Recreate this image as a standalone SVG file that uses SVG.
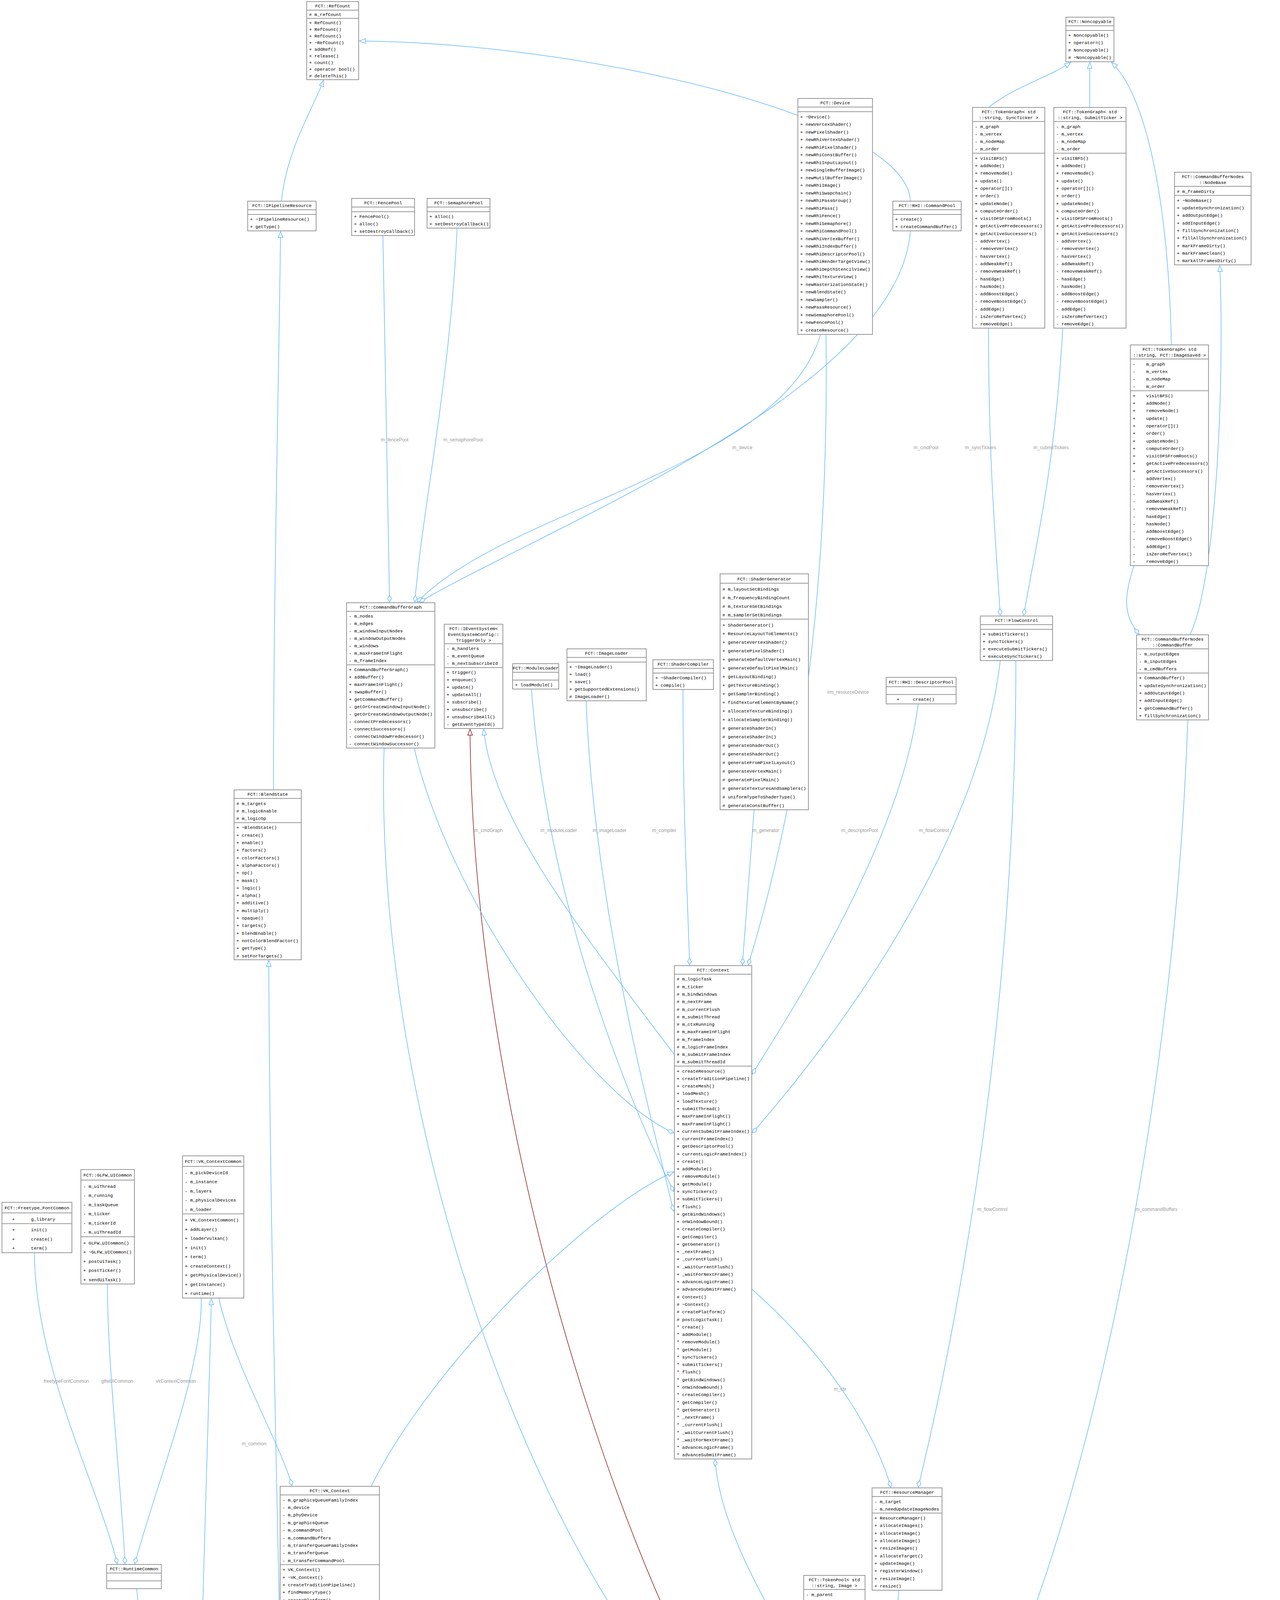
<svg xmlns="http://www.w3.org/2000/svg" width="3276" height="5499" viewBox="0 0 3276 5499">
<style>
.b{fill:#fff;stroke:#999;stroke-width:2}
.g{fill:#999;stroke:#777;stroke-width:2}
.s{stroke:#999;stroke-width:2}
.t{font-family:"Liberation Mono",monospace;font-size:11.5px;fill:#000;white-space:pre}
.c{text-anchor:middle}
.l{font-family:"Liberation Sans",sans-serif;font-size:12px;fill:#9a9a9a;text-anchor:middle}
.e{fill:none;stroke:#63b8ff;stroke-width:1.5}
.r{fill:none;stroke:#8b1a1a;stroke-width:1.5}
</style>
<defs>
<marker id="tri" markerUnits="userSpaceOnUse" markerWidth="18" markerHeight="16" refX="16" refY="7" orient="auto"><path d="M1,1 L16,7 L1,13 Z" fill="#fff" stroke="#63b8ff" stroke-width="1.5"/></marker>
<marker id="trir" markerUnits="userSpaceOnUse" markerWidth="18" markerHeight="16" refX="16" refY="7" orient="auto"><path d="M1,1 L16,7 L1,13 Z" fill="#fff" stroke="#8b1a1a" stroke-width="1.5"/></marker>
<marker id="dia" markerUnits="userSpaceOnUse" markerWidth="20" markerHeight="12" refX="18" refY="6" orient="auto"><path d="M1,6 L9.5,1 L18,6 L9.5,11 Z" fill="#fff" stroke="#63b8ff" stroke-width="1.5"/></marker>
</defs>

<g id="edges">
<path class="e" marker-end="url(#tri)" d="M720 515 C735 380 800 280 828 206"/>
<path class="e" marker-end="url(#tri)" d="M700 2022 C700 1500 715 900 718 593"/>
<path class="e" marker-end="url(#tri)" d="M730 4926 C720 4200 690 3200 688 2459"/>
<path class="e" marker-end="url(#tri)" d="M2330 515 C2320 300 1500 110 920 105"/>
<path class="e" marker-end="url(#tri)" d="M2530 275 C2600 220 2680 200 2740 160"/>
<path class="e" marker-end="url(#tri)" d="M2789 275 L2789 160"/>
<path class="e" marker-end="url(#tri)" d="M2998 883 C2990 500 2930 240 2845 160"/>
<path class="e" marker-end="url(#tri)" d="M3045 1625 C3110 1500 3135 1000 3122 680"/>
<path class="r" marker-end="url(#trir)" d="M2110 4780 C1700 4400 1210 3000 1203 1867"/>
<path class="e" marker-end="url(#tri)" d="M1726 2700 C1500 2400 1260 2100 1238 1867"/>
<path class="e" marker-end="url(#tri)" d="M950 3805 C1100 3500 1500 3100 1724 3000"/>
<path class="e" marker-end="url(#tri)" d="M504 4839 C510 4300 535 3600 541 3325"/>

<path class="e" marker-end="url(#dia)" d="M980 603 C985 1000 995 1300 997 1541"/>
<path class="e" marker-end="url(#dia)" d="M1170 584 C1150 1000 1080 1300 1062 1541"/>
<path class="e" marker-end="url(#dia)" d="M2100 856 C2000 1200 1300 1300 1068 1541"/>
<path class="e" marker-end="url(#dia)" d="M2330 591 C2300 1000 1400 1350 1074 1541"/>
<path class="e" marker-end="url(#dia)" d="M983 1915 C950 3000 1500 4400 2108 4650"/>
<path class="e" marker-end="url(#dia)" d="M1060 1915 C1150 2300 1500 2800 1724 2900"/>
<path class="e" marker-end="url(#dia)" d="M1360 1764 C1400 2300 1600 2800 1724 3050"/>
<path class="e" marker-end="url(#dia)" d="M1500 1794 C1520 2300 1650 2800 1724 3100"/>
<path class="e" marker-end="url(#dia)" d="M1748 1765 C1748 2100 1760 2300 1765 2470"/>
<path class="e" marker-end="url(#dia)" d="M1930 2073 L1900 2470"/>
<path class="e" marker-end="url(#dia)" d="M2350 1802 C2300 2200 1950 2700 1926 2750"/>
<path class="e" marker-end="url(#dia)" d="M2114 856 C2120 1300 2090 1900 1915 2470"/>
<path class="e" marker-end="url(#dia)" d="M2560 1691 C2500 2200 2100 2700 1926 2900"/>
<path class="e" marker-end="url(#dia)" d="M2530 840 C2530 1200 2550 1400 2560 1575"/>
<path class="e" marker-end="url(#dia)" d="M2720 840 C2700 1200 2650 1400 2620 1575"/>
<path class="e" marker-end="url(#dia)" d="M2902 1448 C2880 1520 2870 1570 2915 1623"/>
<path class="e" marker-end="url(#dia)" d="M3040 1843 C3000 3000 2700 4300 2345 4700"/>
<path class="e" marker-end="url(#dia)" d="M2300 4071 L2280 4537"/>
<path class="e" marker-end="url(#dia)" d="M2140 4231 L2160 4537"/>
<path class="e" marker-end="url(#dia)" d="M2200 4539 C2100 4300 1850 4000 1830 3737"/>
<path class="e" marker-end="url(#dia)" d="M1924 3300 C2150 3500 2250 3700 2280 3807"/>
<path class="e" marker-end="url(#dia)" d="M2600 1691 C2600 2600 2450 3400 2350 3807"/>
<path class="e" marker-end="url(#dia)" d="M560 3323 C600 3500 720 3700 747 3803"/>
<path class="e" marker-end="url(#dia)" d="M350 4067 C380 4400 450 4700 467 4837"/>
<path class="e" marker-end="url(#dia)" d="M88 3207 C90 3500 250 3800 300 4003"/>
<path class="e" marker-end="url(#dia)" d="M275 3288 C275 3500 310 3800 320 4003"/>
<path class="e" marker-end="url(#dia)" d="M515 3323 C520 3500 400 3800 345 4003"/>
<path class="e" marker-end="url(#dia)" d="M805 4475 L753 4924"/>

<text class="l" x="1010" y="1130">m_fencePool</text>
<text class="l" x="1185" y="1130">m_semaphorePool</text>
<text class="l" x="1900" y="1150">m_device</text>
<text class="l" x="2370" y="1150">m_cmdPool</text>
<text class="l" x="1200" y="4120">m_commandBufferGraph</text>
<text class="l" x="1250" y="2130">m_cmdGraph</text>
<text class="l" x="1430" y="2130">m_moduleLoader</text>
<text class="l" x="1560" y="2130">m_imageLoader</text>
<text class="l" x="1700" y="2130">m_compiler</text>
<text class="l" x="1960" y="2130">m_generator</text>
<text class="l" x="2200" y="2130">m_descriptorPool</text>
<text class="l" x="2117" y="1776" style="text-anchor:start">#m_resourceDevice</text>
<text class="l" x="2390" y="2130">m_flowControl</text>
<text class="l" x="2510" y="1150">m_syncTickers</text>
<text class="l" x="2690" y="1150">m_submitTickers</text>
<text class="l" x="2960" y="3100">m_commandBuffers</text>
<text class="l" x="2320" y="4300">m_resourceManager</text>
<text class="l" x="2100" y="4380">m_passGroups</text>
<text class="l" x="1960" y="4150">m_renderGraph</text>
<text class="l" x="2150" y="3560">m_ctx</text>
<text class="l" x="2540" y="3100">m_flowControl</text>
<text class="l" x="650" y="3700">m_common</text>
<text class="l" x="420" y="4600">m_common</text>
<text class="l" x="170" y="3540">freetypeFontCommon</text>
<text class="l" x="300" y="3540">glfwUICommon</text>
<text class="l" x="450" y="3540">vkContextCommon</text>
<text class="l" x="800" y="4620">m_ctx</text>
</g>

<g id="RefCount"><rect class="b" x="785" y="4" width="133" height="200"/><line class="s" x1="785" y1="26" x2="918" y2="26"/><line class="s" x1="785" y1="47" x2="918" y2="47"/>
<text class="t c" x="851.5" y="19">FCT::RefCount</text>
<text class="t" x="791" y="40.75"># m_refCount</text>
<text class="t" x="791" y="61.75"><tspan x="791">+ RefCount()</tspan><tspan x="791" dy="17">+ RefCount()</tspan><tspan x="791" dy="17">+ RefCount()</tspan><tspan x="791" dy="17">+ ~RefCount()</tspan><tspan x="791" dy="17">+ addRef()</tspan><tspan x="791" dy="17">+ release()</tspan><tspan x="791" dy="17">+ count()</tspan><tspan x="791" dy="17">+ operator bool()</tspan><tspan x="791" dy="17"># deleteThis()</tspan></text></g>

<g id="IPipelineResource"><rect class="b" x="634" y="515" width="175" height="76"/><line class="s" x1="634" y1="537" x2="809" y2="537"/><line class="s" x1="634" y1="549" x2="809" y2="549"/>
<text class="t c" x="721.5" y="530">FCT::IPipelineResource</text>
<text class="t" x="640" y="565.25"><tspan x="640">+ ~IPipelineResource()</tspan><tspan x="640" dy="19">+ getType()</tspan></text></g>

<g id="FencePool"><rect class="b" x="900" y="508" width="161" height="95"/><line class="s" x1="900" y1="530" x2="1061" y2="530"/><line class="s" x1="900" y1="542" x2="1061" y2="542"/>
<text class="t c" x="980.5" y="523">FCT::FencePool</text>
<text class="t" x="906" y="558.25"><tspan x="906">+ FencePool()</tspan><tspan x="906" dy="19">+ alloc()</tspan><tspan x="906" dy="19">+ setDestroyCallback()</tspan></text></g>

<g id="SemaphorePool"><rect class="b" x="1093" y="508" width="161" height="76"/><line class="s" x1="1093" y1="530" x2="1254" y2="530"/><line class="s" x1="1093" y1="542" x2="1254" y2="542"/>
<text class="t c" x="1173.5" y="523">FCT::SemaphorePool</text>
<text class="t" x="1099" y="558.25"><tspan x="1099">+ alloc()</tspan><tspan x="1099" dy="19">+ setDestroyCallback()</tspan></text></g>

<g id="RHICommandPool"><rect class="b" x="2285" y="515" width="175" height="76"/><line class="s" x1="2285" y1="537" x2="2460" y2="537"/><line class="s" x1="2285" y1="549" x2="2460" y2="549"/>
<text class="t c" x="2372.5" y="530">FCT::RHI::CommandPool</text>
<text class="t" x="2291" y="565.25"><tspan x="2291">+ create()</tspan><tspan x="2291" dy="19">+ createCommandBuffer()</tspan></text></g>

<g id="Device"><rect class="b" x="2042" y="252" width="191" height="604"/><line class="s" x1="2042" y1="274" x2="2233" y2="274"/><line class="s" x1="2042" y1="286" x2="2233" y2="286"/>
<text class="t c" x="2137.5" y="267">FCT::Device</text>
<text class="t" x="2048" y="302.6"><tspan x="2048">+ ~Device()</tspan><tspan x="2048" dy="19.5">+ newVertexShader()</tspan><tspan x="2048" dy="19.5">+ newPixelShader()</tspan><tspan x="2048" dy="19.5">+ newRhiVertexShader()</tspan><tspan x="2048" dy="19.5">+ newRhiPixelShader()</tspan><tspan x="2048" dy="19.5">+ newRhiConstBuffer()</tspan><tspan x="2048" dy="19.5">+ newRhiInputLayout()</tspan><tspan x="2048" dy="19.5">+ newSingleBufferImage()</tspan><tspan x="2048" dy="19.5">+ newMutilBufferImage()</tspan><tspan x="2048" dy="19.5">+ newRhiImage()</tspan><tspan x="2048" dy="19.5">+ newRhiSwapchain()</tspan><tspan x="2048" dy="19.5">+ newRhiPassGroup()</tspan><tspan x="2048" dy="19.5">+ newRhiPass()</tspan><tspan x="2048" dy="19.5">+ newRhiFence()</tspan><tspan x="2048" dy="19.5">+ newRhiSemaphore()</tspan><tspan x="2048" dy="19.5">+ newRhiCommandPool()</tspan><tspan x="2048" dy="19.5">+ newRhiVertexBuffer()</tspan><tspan x="2048" dy="19.5">+ newRhiIndexBuffer()</tspan><tspan x="2048" dy="19.5">+ newRhiDescriptorPool()</tspan><tspan x="2048" dy="19.5">+ newRhiRenderTargetView()</tspan><tspan x="2048" dy="19.5">+ newRhiDepthStencilView()</tspan><tspan x="2048" dy="19.5">+ newRhiTextureView()</tspan><tspan x="2048" dy="19.5">+ newRasterizationState()</tspan><tspan x="2048" dy="19.5">+ newBlendState()</tspan><tspan x="2048" dy="19.5">+ newSampler()</tspan><tspan x="2048" dy="19.5">+ newPassResource()</tspan><tspan x="2048" dy="19.5">+ newSemaphorePool()</tspan><tspan x="2048" dy="19.5">+ newFencePool()</tspan><tspan x="2048" dy="19.5">+ createResource()</tspan></text></g>

<g id="Noncopyable"><rect class="b" x="2728" y="44" width="123" height="114"/><line class="s" x1="2728" y1="66" x2="2851" y2="66"/><line class="s" x1="2728" y1="78" x2="2851" y2="78"/>
<text class="t c" x="2789.5" y="59">FCT::Noncopyable</text>
<text class="t" x="2734" y="94.25"><tspan x="2734">+ Noncopyable()</tspan><tspan x="2734" dy="19">+ operator=()</tspan><tspan x="2734" dy="19"># Noncopyable()</tspan><tspan x="2734" dy="19"># ~Noncopyable()</tspan></text></g>

<g id="TokenGraphSync"><rect class="b" x="2489" y="275" width="185" height="565"/><line class="s" x1="2489" y1="311" x2="2674" y2="311"/><line class="s" x1="2489" y1="392.2" x2="2674" y2="392.2"/>
<text class="t c" x="2581.5" y="290"><tspan x="2581.5">FCT::TokenGraph&lt; std</tspan><tspan x="2581.5" dy="15">::string, SyncTicker &gt;</tspan></text>
<text class="t" x="2495" y="327.5"><tspan x="2495">- m_graph</tspan><tspan x="2495" dy="19.3">- m_vertex</tspan><tspan x="2495" dy="19.3">- m_nodeMap</tspan><tspan x="2495" dy="19.3">- m_order</tspan></text>
<text class="t" x="2495" y="408.7"><tspan x="2495">+ visitBFS()</tspan><tspan x="2495" dy="19.3">+ addNode()</tspan><tspan x="2495" dy="19.3">+ removeNode()</tspan><tspan x="2495" dy="19.3">+ update()</tspan><tspan x="2495" dy="19.3">+ operator[]()</tspan><tspan x="2495" dy="19.3">+ order()</tspan><tspan x="2495" dy="19.3">+ updateNode()</tspan><tspan x="2495" dy="19.3">+ computeOrder()</tspan><tspan x="2495" dy="19.3">+ visitDFSFromRoots()</tspan><tspan x="2495" dy="19.3">+ getActivePredecessors()</tspan><tspan x="2495" dy="19.3">+ getActiveSuccessors()</tspan><tspan x="2495" dy="19.3">- addVertex()</tspan><tspan x="2495" dy="19.3">- removeVertex()</tspan><tspan x="2495" dy="19.3">- hasVertex()</tspan><tspan x="2495" dy="19.3">- addWeakRef()</tspan><tspan x="2495" dy="19.3">- removeWeakRef()</tspan><tspan x="2495" dy="19.3">- hasEdge()</tspan><tspan x="2495" dy="19.3">- hasNode()</tspan><tspan x="2495" dy="19.3">- addBoostEdge()</tspan><tspan x="2495" dy="19.3">- removeBoostEdge()</tspan><tspan x="2495" dy="19.3">- addEdge()</tspan><tspan x="2495" dy="19.3">- isZeroRefVertex()</tspan><tspan x="2495" dy="19.3">- removeEdge()</tspan></text></g>

<g id="TokenGraphSubmit"><rect class="b" x="2697" y="275" width="185" height="565"/><line class="s" x1="2697" y1="311" x2="2882" y2="311"/><line class="s" x1="2697" y1="392.2" x2="2882" y2="392.2"/>
<text class="t c" x="2789.5" y="290"><tspan x="2789.5">FCT::TokenGraph&lt; std</tspan><tspan x="2789.5" dy="15">::string, SubmitTicker &gt;</tspan></text>
<text class="t" x="2703" y="327.5"><tspan x="2703">- m_graph</tspan><tspan x="2703" dy="19.3">- m_vertex</tspan><tspan x="2703" dy="19.3">- m_nodeMap</tspan><tspan x="2703" dy="19.3">- m_order</tspan></text>
<text class="t" x="2703" y="408.7"><tspan x="2703">+ visitBFS()</tspan><tspan x="2703" dy="19.3">+ addNode()</tspan><tspan x="2703" dy="19.3">+ removeNode()</tspan><tspan x="2703" dy="19.3">+ update()</tspan><tspan x="2703" dy="19.3">+ operator[]()</tspan><tspan x="2703" dy="19.3">+ order()</tspan><tspan x="2703" dy="19.3">+ updateNode()</tspan><tspan x="2703" dy="19.3">+ computeOrder()</tspan><tspan x="2703" dy="19.3">+ visitDFSFromRoots()</tspan><tspan x="2703" dy="19.3">+ getActivePredecessors()</tspan><tspan x="2703" dy="19.3">+ getActiveSuccessors()</tspan><tspan x="2703" dy="19.3">- addVertex()</tspan><tspan x="2703" dy="19.3">- removeVertex()</tspan><tspan x="2703" dy="19.3">- hasVertex()</tspan><tspan x="2703" dy="19.3">- addWeakRef()</tspan><tspan x="2703" dy="19.3">- removeWeakRef()</tspan><tspan x="2703" dy="19.3">- hasEdge()</tspan><tspan x="2703" dy="19.3">- hasNode()</tspan><tspan x="2703" dy="19.3">- addBoostEdge()</tspan><tspan x="2703" dy="19.3">- removeBoostEdge()</tspan><tspan x="2703" dy="19.3">- addEdge()</tspan><tspan x="2703" dy="19.3">- isZeroRefVertex()</tspan><tspan x="2703" dy="19.3">- removeEdge()</tspan></text></g>

<g id="TokenGraphImageSaved"><rect class="b" x="2893" y="883" width="200" height="565"/><line class="s" x1="2893" y1="919" x2="3093" y2="919"/><line class="s" x1="2893" y1="1000.2" x2="3093" y2="1000.2"/>
<text class="t c" x="2993" y="898"><tspan x="2993">FCT::TokenGraph&lt; std</tspan><tspan x="2993" dy="15">::string, FCT::ImageSaved &gt;</tspan></text>
<text class="t" x="2899" y="935.5"><tspan x="2899">-    m_graph</tspan><tspan x="2899" dy="19.3">-    m_vertex</tspan><tspan x="2899" dy="19.3">-    m_nodeMap</tspan><tspan x="2899" dy="19.3">-    m_order</tspan></text>
<text class="t" x="2899" y="1016.7"><tspan x="2899">+    visitBFS()</tspan><tspan x="2899" dy="19.3">+    addNode()</tspan><tspan x="2899" dy="19.3">+    removeNode()</tspan><tspan x="2899" dy="19.3">+    update()</tspan><tspan x="2899" dy="19.3">+    operator[]()</tspan><tspan x="2899" dy="19.3">+    order()</tspan><tspan x="2899" dy="19.3">+    updateNode()</tspan><tspan x="2899" dy="19.3">+    computeOrder()</tspan><tspan x="2899" dy="19.3">+    visitDFSFromRoots()</tspan><tspan x="2899" dy="19.3">+    getActivePredecessors()</tspan><tspan x="2899" dy="19.3">+    getActiveSuccessors()</tspan><tspan x="2899" dy="19.3">-    addVertex()</tspan><tspan x="2899" dy="19.3">-    removeVertex()</tspan><tspan x="2899" dy="19.3">-    hasVertex()</tspan><tspan x="2899" dy="19.3">-    addWeakRef()</tspan><tspan x="2899" dy="19.3">-    removeWeakRef()</tspan><tspan x="2899" dy="19.3">-    hasEdge()</tspan><tspan x="2899" dy="19.3">-    hasNode()</tspan><tspan x="2899" dy="19.3">-    addBoostEdge()</tspan><tspan x="2899" dy="19.3">-    removeBoostEdge()</tspan><tspan x="2899" dy="19.3">-    addEdge()</tspan><tspan x="2899" dy="19.3">-    isZeroRefVertex()</tspan><tspan x="2899" dy="19.3">-    removeEdge()</tspan></text></g>

<g id="NodeBase"><rect class="b" x="3006" y="441" width="196" height="237"/><line class="s" x1="3006" y1="477" x2="3202" y2="477"/><line class="s" x1="3006" y1="500.3" x2="3202" y2="500.3"/>
<text class="t c" x="3104" y="456"><tspan x="3104">FCT::CommandBufferNodes</tspan><tspan x="3104" dy="15">::NodeBase</tspan></text>
<text class="t" x="3012" y="493.5"># m_frameDirty</text>
<text class="t" x="3012" y="516.8"><tspan x="3012">+ ~NodeBase()</tspan><tspan x="3012" dy="19.3">+ updateSynchronization()</tspan><tspan x="3012" dy="19.3">+ addOutputEdge()</tspan><tspan x="3012" dy="19.3">+ addInputEdge()</tspan><tspan x="3012" dy="19.3">+ fillSynchronization()</tspan><tspan x="3012" dy="19.3">+ fillAllSynchronization()</tspan><tspan x="3012" dy="19.3">+ markFrameDirty()</tspan><tspan x="3012" dy="19.3">+ markFrameClean()</tspan><tspan x="3012" dy="19.3">+ markAllFramesDirty()</tspan></text></g>

<g id="CBNodeCommandBuffer"><rect class="b" x="2909" y="1625" width="184" height="218"/><line class="s" x1="2909" y1="1661" x2="3093" y2="1661"/><line class="s" x1="2909" y1="1722.9" x2="3093" y2="1722.9"/>
<text class="t c" x="3001" y="1640"><tspan x="3001">FCT::CommandBufferNodes</tspan><tspan x="3001" dy="15">::CommandBuffer</tspan></text>
<text class="t" x="2915" y="1677.5"><tspan x="2915">- m_outputEdges</tspan><tspan x="2915" dy="19.3">- m_inputEdges</tspan><tspan x="2915" dy="19.3">- m_cmdBuffers</tspan></text>
<text class="t" x="2915" y="1739.4"><tspan x="2915">+ CommandBuffer()</tspan><tspan x="2915" dy="19.3">+ updateSynchronization()</tspan><tspan x="2915" dy="19.3">+ addOutputEdge()</tspan><tspan x="2915" dy="19.3">+ addInputEdge()</tspan><tspan x="2915" dy="19.3">+ getCommandBuffer()</tspan><tspan x="2915" dy="19.3">+ fillSynchronization()</tspan></text></g>

<g id="FlowControl"><rect class="b" x="2509" y="1577" width="185" height="114"/><line class="s" x1="2509" y1="1599" x2="2694" y2="1599"/><line class="s" x1="2509" y1="1611" x2="2694" y2="1611"/>
<text class="t c" x="2601.5" y="1592">FCT::FlowControl</text>
<text class="t" x="2515" y="1627.25"><tspan x="2515">+ submitTickers()</tspan><tspan x="2515" dy="19">+ syncTickers()</tspan><tspan x="2515" dy="19">+ executeSubmitTickers()</tspan><tspan x="2515" dy="19">+ executeSyncTickers()</tspan></text></g>

<g id="DescriptorPool"><rect class="b" x="2268" y="1734" width="179" height="68"/><line class="s" x1="2268" y1="1758" x2="2447" y2="1758"/><line class="s" x1="2268" y1="1778" x2="2447" y2="1778"/>
<text class="t c" x="2357.5" y="1750">FCT::RHI::DescriptorPool</text>
<text class="t" x="2295" y="1794.25">+     create()</text></g>

<g id="ShaderGenerator"><rect class="b" x="1843" y="1469" width="226" height="604"/><line class="s" x1="1843" y1="1493" x2="2069" y2="1493"/><line class="s" x1="1843" y1="1585" x2="2069" y2="1585"/>
<text class="t c" x="1956" y="1486">FCT::ShaderGenerator</text>
<text class="t" x="1849" y="1511.5"><tspan x="1849"># m_layoutSetBindings</tspan><tspan x="1849" dy="22"># m_frequencyBindingCount</tspan><tspan x="1849" dy="22"># m_textureSetBindings</tspan><tspan x="1849" dy="22"># m_samplerSetBindings</tspan></text>
<text class="t" x="1849" y="1603.5"><tspan x="1849">+ ShaderGenerator()</tspan><tspan x="1849" dy="22">+ ResourceLayoutToElements()</tspan><tspan x="1849" dy="22">+ generateVertexShader()</tspan><tspan x="1849" dy="22">+ generatePixelShader()</tspan><tspan x="1849" dy="22">+ generateDefaultVertexMain()</tspan><tspan x="1849" dy="22">+ generateDefaultPixelMain()</tspan><tspan x="1849" dy="22">+ getLayoutBinding()</tspan><tspan x="1849" dy="22">+ getTextureBinding()</tspan><tspan x="1849" dy="22">+ getSamplerBinding()</tspan><tspan x="1849" dy="22">+ findTextureElementByName()</tspan><tspan x="1849" dy="22">+ allocateTextureBinding()</tspan><tspan x="1849" dy="22">+ allocateSamplerBinding()</tspan><tspan x="1849" dy="22"># generateShaderIn()</tspan><tspan x="1849" dy="22"># generateShaderIn()</tspan><tspan x="1849" dy="22"># generateShaderOut()</tspan><tspan x="1849" dy="22"># generateShaderOut()</tspan><tspan x="1849" dy="22"># generateFromPixelLayout()</tspan><tspan x="1849" dy="22"># generateVertexMain()</tspan><tspan x="1849" dy="22"># generatePixelMain()</tspan><tspan x="1849" dy="22"># generateTexturesAndSamplers()</tspan><tspan x="1849" dy="22"># uniformTypeToShaderType()</tspan><tspan x="1849" dy="22"># generateConstBuffer()</tspan></text></g>

<g id="ModuleLoader"><rect class="b" x="1312" y="1699" width="118" height="65"/><line class="s" x1="1312" y1="1721" x2="1430" y2="1721"/><line class="s" x1="1312" y1="1741" x2="1430" y2="1741"/>
<text class="t c" x="1371" y="1714">FCT::ModuleLoader</text>
<text class="t" x="1318" y="1757.25">+ loadModule()</text></g>

<g id="ImageLoader"><rect class="b" x="1451" y="1661" width="203" height="133"/><line class="s" x1="1451" y1="1683" x2="1654" y2="1683"/><line class="s" x1="1451" y1="1695" x2="1654" y2="1695"/>
<text class="t c" x="1552.5" y="1676">FCT::ImageLoader</text>
<text class="t" x="1457" y="1711.25"><tspan x="1457">+ ~ImageLoader()</tspan><tspan x="1457" dy="19">+ load()</tspan><tspan x="1457" dy="19">+ save()</tspan><tspan x="1457" dy="19">+ getSupportedExtensions()</tspan><tspan x="1457" dy="19"># ImageLoader()</tspan></text></g>

<g id="ShaderCompiler"><rect class="b" x="1671" y="1689" width="155" height="76"/><line class="s" x1="1671" y1="1711" x2="1826" y2="1711"/><line class="s" x1="1671" y1="1723" x2="1826" y2="1723"/>
<text class="t c" x="1748.5" y="1704">FCT::ShaderCompiler</text>
<text class="t" x="1677" y="1739.25"><tspan x="1677">+ ~ShaderCompiler()</tspan><tspan x="1677" dy="19">+ compile()</tspan></text></g>

<g id="IEventSystem"><rect class="b" x="1137" y="1598" width="150" height="267"/><line class="s" x1="1137" y1="1648" x2="1287" y2="1648"/><line class="s" x1="1137" y1="1709" x2="1287" y2="1709"/>
<text class="t c" x="1212" y="1613"><tspan x="1212">FCT::IEventSystem&lt;</tspan><tspan x="1212" dy="15">EventSystemConfig::</tspan><tspan x="1212" dy="15">TriggerOnly &gt;</tspan></text>
<text class="t" x="1143" y="1664.25"><tspan x="1143">- m_handlers</tspan><tspan x="1143" dy="19">- m_eventQueue</tspan><tspan x="1143" dy="19">- m_nextSubscribeId</tspan></text>
<text class="t" x="1143" y="1725.25"><tspan x="1143">+ trigger()</tspan><tspan x="1143" dy="19">+ enqueue()</tspan><tspan x="1143" dy="19">+ update()</tspan><tspan x="1143" dy="19">+ updateAll()</tspan><tspan x="1143" dy="19">+ subscribe()</tspan><tspan x="1143" dy="19">+ unsubscribe()</tspan><tspan x="1143" dy="19">+ unsubscribeAll()</tspan><tspan x="1143" dy="19">- getEventTypeId()</tspan></text></g>

<g id="CommandBufferGraph"><rect class="b" x="887" y="1543" width="226" height="372"/><line class="s" x1="887" y1="1565" x2="1113" y2="1565"/><line class="s" x1="887" y1="1702" x2="1113" y2="1702"/>
<text class="t c" x="1000" y="1558">FCT::CommandBufferGraph</text>
<text class="t" x="893" y="1581.25"><tspan x="893">- m_nodes</tspan><tspan x="893" dy="19">- m_edges</tspan><tspan x="893" dy="19">- m_windowInputNodes</tspan><tspan x="893" dy="19">- m_windowOutputNodes</tspan><tspan x="893" dy="19">- m_windows</tspan><tspan x="893" dy="19">- m_maxFrameInFlight</tspan><tspan x="893" dy="19">- m_frameIndex</tspan></text>
<text class="t" x="893" y="1718.25"><tspan x="893">+ CommandBufferGraph()</tspan><tspan x="893" dy="19">+ addBuffer()</tspan><tspan x="893" dy="19">+ maxFrameInFlight()</tspan><tspan x="893" dy="19">+ swapBuffer()</tspan><tspan x="893" dy="19">+ getCommandBuffer()</tspan><tspan x="893" dy="19">- getOrCreateWindowInputNode()</tspan><tspan x="893" dy="19">- getOrCreateWindowOutputNode()</tspan><tspan x="893" dy="19">- connectPredecessors()</tspan><tspan x="893" dy="19">- connectSuccessors()</tspan><tspan x="893" dy="19">- connectWindowPredecessor()</tspan><tspan x="893" dy="19">- connectWindowSuccessor()</tspan></text></g>

<g id="Context"><rect class="b" x="1726" y="2472" width="198" height="1263"/><line class="s" x1="1726" y1="2494" x2="1924" y2="2494"/><line class="s" x1="1726" y1="2729.2" x2="1924" y2="2729.2"/>
<text class="t c" x="1825" y="2487">FCT::Context</text>
<text class="t" x="1732" y="2510.45"><tspan x="1732"># m_logicTask</tspan><tspan x="1732" dy="19.27"># m_ticker</tspan><tspan x="1732" dy="19.27"># m_bindWindows</tspan><tspan x="1732" dy="19.27"># m_nextFrame</tspan><tspan x="1732" dy="19.27"># m_currentFlush</tspan><tspan x="1732" dy="19.27"># m_submitThread</tspan><tspan x="1732" dy="19.27"># m_ctxRunning</tspan><tspan x="1732" dy="19.27"># m_maxFrameInFlight</tspan><tspan x="1732" dy="19.27"># m_frameIndex</tspan><tspan x="1732" dy="19.27"># m_logicFrameIndex</tspan><tspan x="1732" dy="19.27"># m_submitFrameIndex</tspan><tspan x="1732" dy="19.27"># m_submitThreadId</tspan></text>
<text class="t" x="1732" y="2745.65"><tspan x="1732">+ createResource()</tspan><tspan x="1732" dy="19.27">+ createTraditionPipeline()</tspan><tspan x="1732" dy="19.27">+ createMesh()</tspan><tspan x="1732" dy="19.27">+ loadMesh()</tspan><tspan x="1732" dy="19.27">+ loadTexture()</tspan><tspan x="1732" dy="19.27">+ submitThread()</tspan><tspan x="1732" dy="19.27">+ maxFrameInFlight()</tspan><tspan x="1732" dy="19.27">+ maxFrameInFlight()</tspan><tspan x="1732" dy="19.27">+ currentSubmitFrameIndex()</tspan><tspan x="1732" dy="19.27">+ currentFrameIndex()</tspan><tspan x="1732" dy="19.27">+ getDescriptorPool()</tspan><tspan x="1732" dy="19.27">+ currentLogicFrameIndex()</tspan><tspan x="1732" dy="19.27">+ create()</tspan><tspan x="1732" dy="19.27">+ addModule()</tspan><tspan x="1732" dy="19.27">+ removeModule()</tspan><tspan x="1732" dy="19.27">+ getModule()</tspan><tspan x="1732" dy="19.27">+ syncTickers()</tspan><tspan x="1732" dy="19.27">+ submitTickers()</tspan><tspan x="1732" dy="19.27">+ flush()</tspan><tspan x="1732" dy="19.27">+ getBindWindows()</tspan><tspan x="1732" dy="19.27">+ onWindowBound()</tspan><tspan x="1732" dy="19.27">+ createCompiler()</tspan><tspan x="1732" dy="19.27">+ getCompiler()</tspan><tspan x="1732" dy="19.27">+ getGenerator()</tspan><tspan x="1732" dy="19.27">+ _nextFrame()</tspan><tspan x="1732" dy="19.27">+ _currentFlush()</tspan><tspan x="1732" dy="19.27">+ _waitCurrentFlush()</tspan><tspan x="1732" dy="19.27">+ _waitForNextFrame()</tspan><tspan x="1732" dy="19.27">+ advanceLogicFrame()</tspan><tspan x="1732" dy="19.27">+ advanceSubmitFrame()</tspan><tspan x="1732" dy="19.27"># Context()</tspan><tspan x="1732" dy="19.27"># ~Context()</tspan><tspan x="1732" dy="19.27"># createPlatform()</tspan><tspan x="1732" dy="19.27"># postLogicTask()</tspan><tspan x="1732" dy="19.27">* create()</tspan><tspan x="1732" dy="19.27">* addModule()</tspan><tspan x="1732" dy="19.27">* removeModule()</tspan><tspan x="1732" dy="19.27">* getModule()</tspan><tspan x="1732" dy="19.27">* syncTickers()</tspan><tspan x="1732" dy="19.27">* submitTickers()</tspan><tspan x="1732" dy="19.27">* flush()</tspan><tspan x="1732" dy="19.27">* getBindWindows()</tspan><tspan x="1732" dy="19.27">* onWindowBound()</tspan><tspan x="1732" dy="19.27">* createCompiler()</tspan><tspan x="1732" dy="19.27">* getCompiler()</tspan><tspan x="1732" dy="19.27">* getGenerator()</tspan><tspan x="1732" dy="19.27">* _nextFrame()</tspan><tspan x="1732" dy="19.27">* _currentFlush()</tspan><tspan x="1732" dy="19.27">* _waitCurrentFlush()</tspan><tspan x="1732" dy="19.27">* _waitForNextFrame()</tspan><tspan x="1732" dy="19.27">* advanceLogicFrame()</tspan><tspan x="1732" dy="19.27">* advanceSubmitFrame()</tspan></text></g>

<g id="ResourceManager"><rect class="b" x="2232" y="3809" width="179" height="262"/><line class="s" x1="2232" y1="3831" x2="2411" y2="3831"/><line class="s" x1="2232" y1="3873.6" x2="2411" y2="3873.6"/>
<text class="t c" x="2321.5" y="3824">FCT::ResourceManager</text>
<text class="t" x="2238" y="3847.5"><tspan x="2238">- m_target</tspan><tspan x="2238" dy="19.3">- m_needUpdateImageNodes</tspan></text>
<text class="t" x="2238" y="3890.1"><tspan x="2238">+ ResourceManager()</tspan><tspan x="2238" dy="19.3">+ allocateImages()</tspan><tspan x="2238" dy="19.3">+ allocateImage()</tspan><tspan x="2238" dy="19.3">+ allocateImage()</tspan><tspan x="2238" dy="19.3">+ resizeImages()</tspan><tspan x="2238" dy="19.3">+ allocateTarget()</tspan><tspan x="2238" dy="19.3">+ updateImage()</tspan><tspan x="2238" dy="19.3">+ registerWindow()</tspan><tspan x="2238" dy="19.3">+ resizeImage()</tspan><tspan x="2238" dy="19.3">+ resize()</tspan></text></g>

<g id="TokenPool"><rect class="b" x="2057" y="4033" width="157" height="198"/><line class="s" x1="2057" y1="4069" x2="2214" y2="4069"/><line class="s" x1="2057" y1="4130.9" x2="2214" y2="4130.9"/>
<text class="t c" x="2135.5" y="4048"><tspan x="2135.5">FCT::TokenPool&lt; std</tspan><tspan x="2135.5" dy="15">::string, Image &gt;</tspan></text>
<text class="t" x="2063" y="4085.5"><tspan x="2063">- m_parent</tspan><tspan x="2063" dy="19.3">- m_rank</tspan><tspan x="2063" dy="19.3">- m_sharedData</tspan></text>
<text class="t" x="2063" y="4147.4"><tspan x="2063">+ find()</tspan><tspan x="2063" dy="19.3">+ unite()</tspan><tspan x="2063" dy="19.3">+ getGroup()</tspan><tspan x="2063" dy="19.3">+ connected()</tspan><tspan x="2063" dy="19.3">+ shared()</tspan></text></g>

<g id="RenderGraph"><rect class="b" x="2110" y="4539" width="233" height="951"/><line class="s" x1="2110" y1="4561" x2="2343" y2="4561"/><line class="s" x1="2110" y1="4771.8" x2="2343" y2="4771.8"/>
<text class="t c" x="2226.5" y="4554">FCT::RenderGraph</text>
<text class="t" x="2116" y="4577.1"><tspan x="2116">- m_commandBufferIndex</tspan><tspan x="2116" dy="18.8">- m_passGroupBarriers</tspan><tspan x="2116" dy="18.8">- m_passGroupDependencies</tspan><tspan x="2116" dy="18.8">- m_imageNodes</tspan><tspan x="2116" dy="18.8">- m_passNodes</tspan><tspan x="2116" dy="18.8">- m_edges</tspan><tspan x="2116" dy="18.8">- m_allocatedImages</tspan><tspan x="2116" dy="18.8">- m_allocatedPasses</tspan><tspan x="2116" dy="18.8">- m_allocatedPassGroups</tspan><tspan x="2116" dy="18.8">- m_passGroupOrders</tspan><tspan x="2116" dy="18.8">- m_passGroupExecutionOrder</tspan></text>
<text class="t" x="2116" y="4787.9"><tspan x="2116">+ RenderGraph()</tspan><tspan x="2116" dy="18.8">+ subscribe()</tspan><tspan x="2116" dy="18.8">+ unsubscribe()</tspan><tspan x="2116" dy="18.8">+ addPass()</tspan><tspan x="2116" dy="18.8">+ compile()</tspan><tspan x="2116" dy="18.8">+ executeAllPassGroups()</tspan><tspan x="2116" dy="18.8">+ getPass()</tspan><tspan x="2116" dy="18.8">+ getImage()</tspan><tspan x="2116" dy="18.8">+ getTextureEdges()</tspan><tspan x="2116" dy="18.8">- initForSubmit()</tspan><tspan x="2116" dy="18.8">- allocateCommandBuffer()</tspan><tspan x="2116" dy="18.8">- getOrCreateImageNode()</tspan><tspan x="2116" dy="18.8">- getOrCreateImageNode()</tspan><tspan x="2116" dy="18.8">- getOrCreateImageNode()</tspan><tspan x="2116" dy="18.8">- createTextureEdge()</tspan><tspan x="2116" dy="18.8">- createTargetEdge()</tspan><tspan x="2116" dy="18.8">- createDepthStencilEdge()</tspan><tspan x="2116" dy="18.8">- simulatePassGroupExecution()</tspan><tspan x="2116" dy="18.8">- simulateExecutionAndAnalyze</tspan><tspan x="2116" dy="18.8">  Barriers()</tspan><tspan x="2116" dy="18.8">- checkBarriersBeforePassGroup()</tspan><tspan x="2116" dy="18.8">- executeBarriers()</tspan><tspan x="2116" dy="18.8">- addPass()</tspan><tspan x="2116" dy="18.8">- cleanUpCompile()</tspan><tspan x="2116" dy="18.8">- cleanUp()</tspan><tspan x="2116" dy="18.8">- resolveTextureSizes()</tspan><tspan x="2116" dy="18.8">- groupPasses()</tspan><tspan x="2116" dy="18.8">- allocateResources()</tspan><tspan x="2116" dy="18.8">- createRHIPasses()</tspan><tspan x="2116" dy="18.8">- analyzePassGroupDependencies()</tspan><tspan x="2116" dy="18.8">- topologicalSort()</tspan><tspan x="2116" dy="18.8">- analyzePassGroupBarriers()</tspan><tspan x="2116" dy="18.8">- computePassGroupExecution</tspan><tspan x="2116" dy="18.8">  Order()</tspan><tspan x="2116" dy="18.8">- createPassGroups()</tspan><tspan x="2116" dy="18.8">- convertShaderStageToPipeline</tspan><tspan x="2116" dy="18.8">  Stage()</tspan><tspan x="2116" dy="18.8">- submitPassGroup()</tspan></text></g>

<g id="BlendState"><rect class="b" x="599" y="2022" width="172" height="435"/><line class="s" x1="599" y1="2044" x2="771" y2="2044"/><line class="s" x1="599" y1="2105.9" x2="771" y2="2105.9"/>
<text class="t c" x="685" y="2037">FCT::BlendState</text>
<text class="t" x="605" y="2060.5"><tspan x="605"># m_targets</tspan><tspan x="605" dy="19.3"># m_logicEnable</tspan><tspan x="605" dy="19.3"># m_logicOp</tspan></text>
<text class="t" x="605" y="2122.4"><tspan x="605">+ ~BlendState()</tspan><tspan x="605" dy="19.3">+ create()</tspan><tspan x="605" dy="19.3">+ enable()</tspan><tspan x="605" dy="19.3">+ factors()</tspan><tspan x="605" dy="19.3">+ colorFactors()</tspan><tspan x="605" dy="19.3">+ alphaFactors()</tspan><tspan x="605" dy="19.3">+ op()</tspan><tspan x="605" dy="19.3">+ mask()</tspan><tspan x="605" dy="19.3">+ logic()</tspan><tspan x="605" dy="19.3">+ alpha()</tspan><tspan x="605" dy="19.3">+ additive()</tspan><tspan x="605" dy="19.3">+ multiply()</tspan><tspan x="605" dy="19.3">+ opaque()</tspan><tspan x="605" dy="19.3">+ targets()</tspan><tspan x="605" dy="19.3">+ blendEnable()</tspan><tspan x="605" dy="19.3">+ notColorBlendFactor()</tspan><tspan x="605" dy="19.3">+ getType()</tspan><tspan x="605" dy="19.3"># setForTargets()</tspan></text></g>

<g id="VK_BlendState"><rect class="g" x="637" y="4926" width="212" height="182"/><line class="s" x1="637" y1="4948" x2="849" y2="4948" style="stroke:#777"/><line class="s" x1="637" y1="4990" x2="849" y2="4990" style="stroke:#777"/>
<text class="t c" x="743" y="4941">FCT::VK_BlendState</text>
<text class="t" x="643" y="4964.25"><tspan x="643">- m_attachmentStates</tspan><tspan x="643" dy="19">- m_createInfo</tspan></text>
<text class="t" x="643" y="5006.25"><tspan x="643">+ VK_BlendState()</tspan><tspan x="643" dy="19">+ create()</tspan><tspan x="643" dy="19">+ colorBlendStateCreateInfo()</tspan><tspan x="643" dy="19">- convertBlendFactor()</tspan><tspan x="643" dy="19">- convertBlendOp()</tspan><tspan x="643" dy="19">- convertLogicOp()</tspan></text></g>

<g id="Runtime"><rect class="b" x="422" y="4839" width="156" height="350"/><line class="s" x1="422" y1="4861" x2="578" y2="4861"/><line class="s" x1="422" y1="4881" x2="578" y2="4881"/>
<text class="t c" x="500" y="4854">FCT::Runtime</text>
<text class="t" x="428" y="4897.25"><tspan x="428">+ Runtime()</tspan><tspan x="428" dy="19">+ ~Runtime()</tspan><tspan x="428" dy="19">+ init()</tspan><tspan x="428" dy="19">+ term()</tspan><tspan x="428" dy="19">+ getDeviceWidth()</tspan><tspan x="428" dy="19">+ getDeviceHeight()</tspan><tspan x="428" dy="19">+ createWindow()</tspan><tspan x="428" dy="19">+ createWindow()</tspan><tspan x="428" dy="19">+ createWindow()</tspan><tspan x="428" dy="19">+ createContext()</tspan><tspan x="428" dy="19">+ createImageLoader()</tspan><tspan x="428" dy="19">+ createModelLoader()</tspan><tspan x="428" dy="19">+ createFont()</tspan><tspan x="428" dy="19">+ postUiTask()</tspan><tspan x="428" dy="19">- Runtime()</tspan><tspan x="428" dy="19">- operator=()</tspan></text></g>

<g id="RuntimeCommon"><rect class="b" x="273" y="4005" width="140" height="62"/><line class="s" x1="273" y1="4027" x2="413" y2="4027"/><line class="s" x1="273" y1="4047" x2="413" y2="4047"/>
<text class="t c" x="343" y="4020">FCT::RuntimeCommon</text></g>

<g id="FreetypeFontCommon"><rect class="b" x="5" y="3078" width="179" height="129"/><line class="s" x1="5" y1="3105" x2="184" y2="3105"/><line class="s" x1="5" y1="3132.5" x2="184" y2="3132.5"/>
<text class="t c" x="94.5" y="3096">FCT::Freetype_FontCommon</text>
<text class="t" x="31" y="3124.6">+      g_library</text>
<text class="t" x="31" y="3152.1"><tspan x="31">+      init()</tspan><tspan x="31" dy="23.5">+      create()</tspan><tspan x="31" dy="23.5">+      term()</tspan></text></g>

<g id="GLFW_UICommon"><rect class="b" x="207" y="2994" width="137" height="293"/><line class="s" x1="207" y1="3021" x2="344" y2="3021"/><line class="s" x1="207" y1="3166" x2="344" y2="3166"/>
<text class="t c" x="275.5" y="3012">FCT::GLFW_UICommon</text>
<text class="t" x="213" y="3040.6"><tspan x="213">- m_uiThread</tspan><tspan x="213" dy="23.5">- m_running</tspan><tspan x="213" dy="23.5">- m_taskQueue</tspan><tspan x="213" dy="23.5">- m_ticker</tspan><tspan x="213" dy="23.5">- m_tickerId</tspan><tspan x="213" dy="23.5">- m_uiThreadId</tspan></text>
<text class="t" x="213" y="3185.6"><tspan x="213">+ GLFW_UICommon()</tspan><tspan x="213" dy="23.5">+ ~GLFW_UICommon()</tspan><tspan x="213" dy="23.5">+ postUiTask()</tspan><tspan x="213" dy="23.5">+ postTicker()</tspan><tspan x="213" dy="23.5">+ sendUiTask()</tspan></text></g>

<g id="VK_ContextCommon"><rect class="b" x="467" y="2959" width="157" height="364"/><line class="s" x1="467" y1="2986" x2="624" y2="2986"/><line class="s" x1="467" y1="3107.5" x2="624" y2="3107.5"/>
<text class="t c" x="545.5" y="2977">FCT::VK_ContextCommon</text>
<text class="t" x="473" y="3005.6"><tspan x="473">- m_pickDeviceId</tspan><tspan x="473" dy="23.5">- m_instance</tspan><tspan x="473" dy="23.5">- m_layers</tspan><tspan x="473" dy="23.5">- m_physicalDevices</tspan><tspan x="473" dy="23.5">- m_loader</tspan></text>
<text class="t" x="473" y="3127.1"><tspan x="473">+ VK_ContextCommon()</tspan><tspan x="473" dy="23.5">+ addLayer()</tspan><tspan x="473" dy="23.5">+ loaderVulkan()</tspan><tspan x="473" dy="23.5">+ init()</tspan><tspan x="473" dy="23.5">+ term()</tspan><tspan x="473" dy="23.5">+ createContext()</tspan><tspan x="473" dy="23.5">+ getPhysicalDevice()</tspan><tspan x="473" dy="23.5">+ getInstance()</tspan><tspan x="473" dy="23.5">+ runtime()</tspan></text></g>

<g id="VK_Context"><rect class="b" x="717" y="3805" width="254" height="670"/><line class="s" x1="717" y1="3827" x2="971" y2="3827"/><line class="s" x1="717" y1="4005.6" x2="971" y2="4005.6"/>
<text class="t c" x="844" y="3820">FCT::VK_Context</text>
<text class="t" x="723" y="3843.55"><tspan x="723">- m_graphicsQueueFamilyIndex</tspan><tspan x="723" dy="19.4">- m_device</tspan><tspan x="723" dy="19.4">- m_phyDevice</tspan><tspan x="723" dy="19.4">- m_graphicsQueue</tspan><tspan x="723" dy="19.4">- m_commandPool</tspan><tspan x="723" dy="19.4">- m_commandBuffers</tspan><tspan x="723" dy="19.4">- m_transferQueueFamilyIndex</tspan><tspan x="723" dy="19.4">- m_transferQueue</tspan><tspan x="723" dy="19.4">- m_transferCommandPool</tspan></text>
<text class="t" x="723" y="4022.15"><tspan x="723">+ VK_Context()</tspan><tspan x="723" dy="19.4">+ ~VK_Context()</tspan><tspan x="723" dy="19.4">+ createTraditionPipeline()</tspan><tspan x="723" dy="19.4">+ findMemoryType()</tspan><tspan x="723" dy="19.4">+ createPlatform()</tspan><tspan x="723" dy="19.4">+ device()</tspan><tspan x="723" dy="19.4">+ getDevice()</tspan><tspan x="723" dy="19.4">+ getPhysicalDevice()</tspan><tspan x="723" dy="19.4">+ getVkInstance()</tspan><tspan x="723" dy="19.4">+ beginCommandBuffer()</tspan><tspan x="723" dy="19.4">+ endCommandBuffer()</tspan><tspan x="723" dy="19.4">+ submitCommandBuffer()</tspan><tspan x="723" dy="19.4">+ clear()</tspan><tspan x="723" dy="19.4">+ getGraphicsQueueFamily()</tspan><tspan x="723" dy="19.4">+ createTransferCommandPool()</tspan><tspan x="723" dy="19.4">+ beginSingleTimeTransferCommands()</tspan><tspan x="723" dy="19.4">+ endSingleTimeTransferCommands()</tspan><tspan x="723" dy="19.4">+ getGraphicsQueue()</tspan><tspan x="723" dy="19.4">+ beginSingleTimeCommands()</tspan><tspan x="723" dy="19.4">+ endSingleTimeCommands()</tspan><tspan x="723" dy="19.4">+ transferDataToBuffer()</tspan><tspan x="723" dy="19.4">+ transferDataToImage()</tspan><tspan x="723" dy="19.4">+ transferDataToImage()</tspan><tspan x="723" dy="19.4">- createCommandPoolAndBuffers()</tspan></text></g>
</svg>
